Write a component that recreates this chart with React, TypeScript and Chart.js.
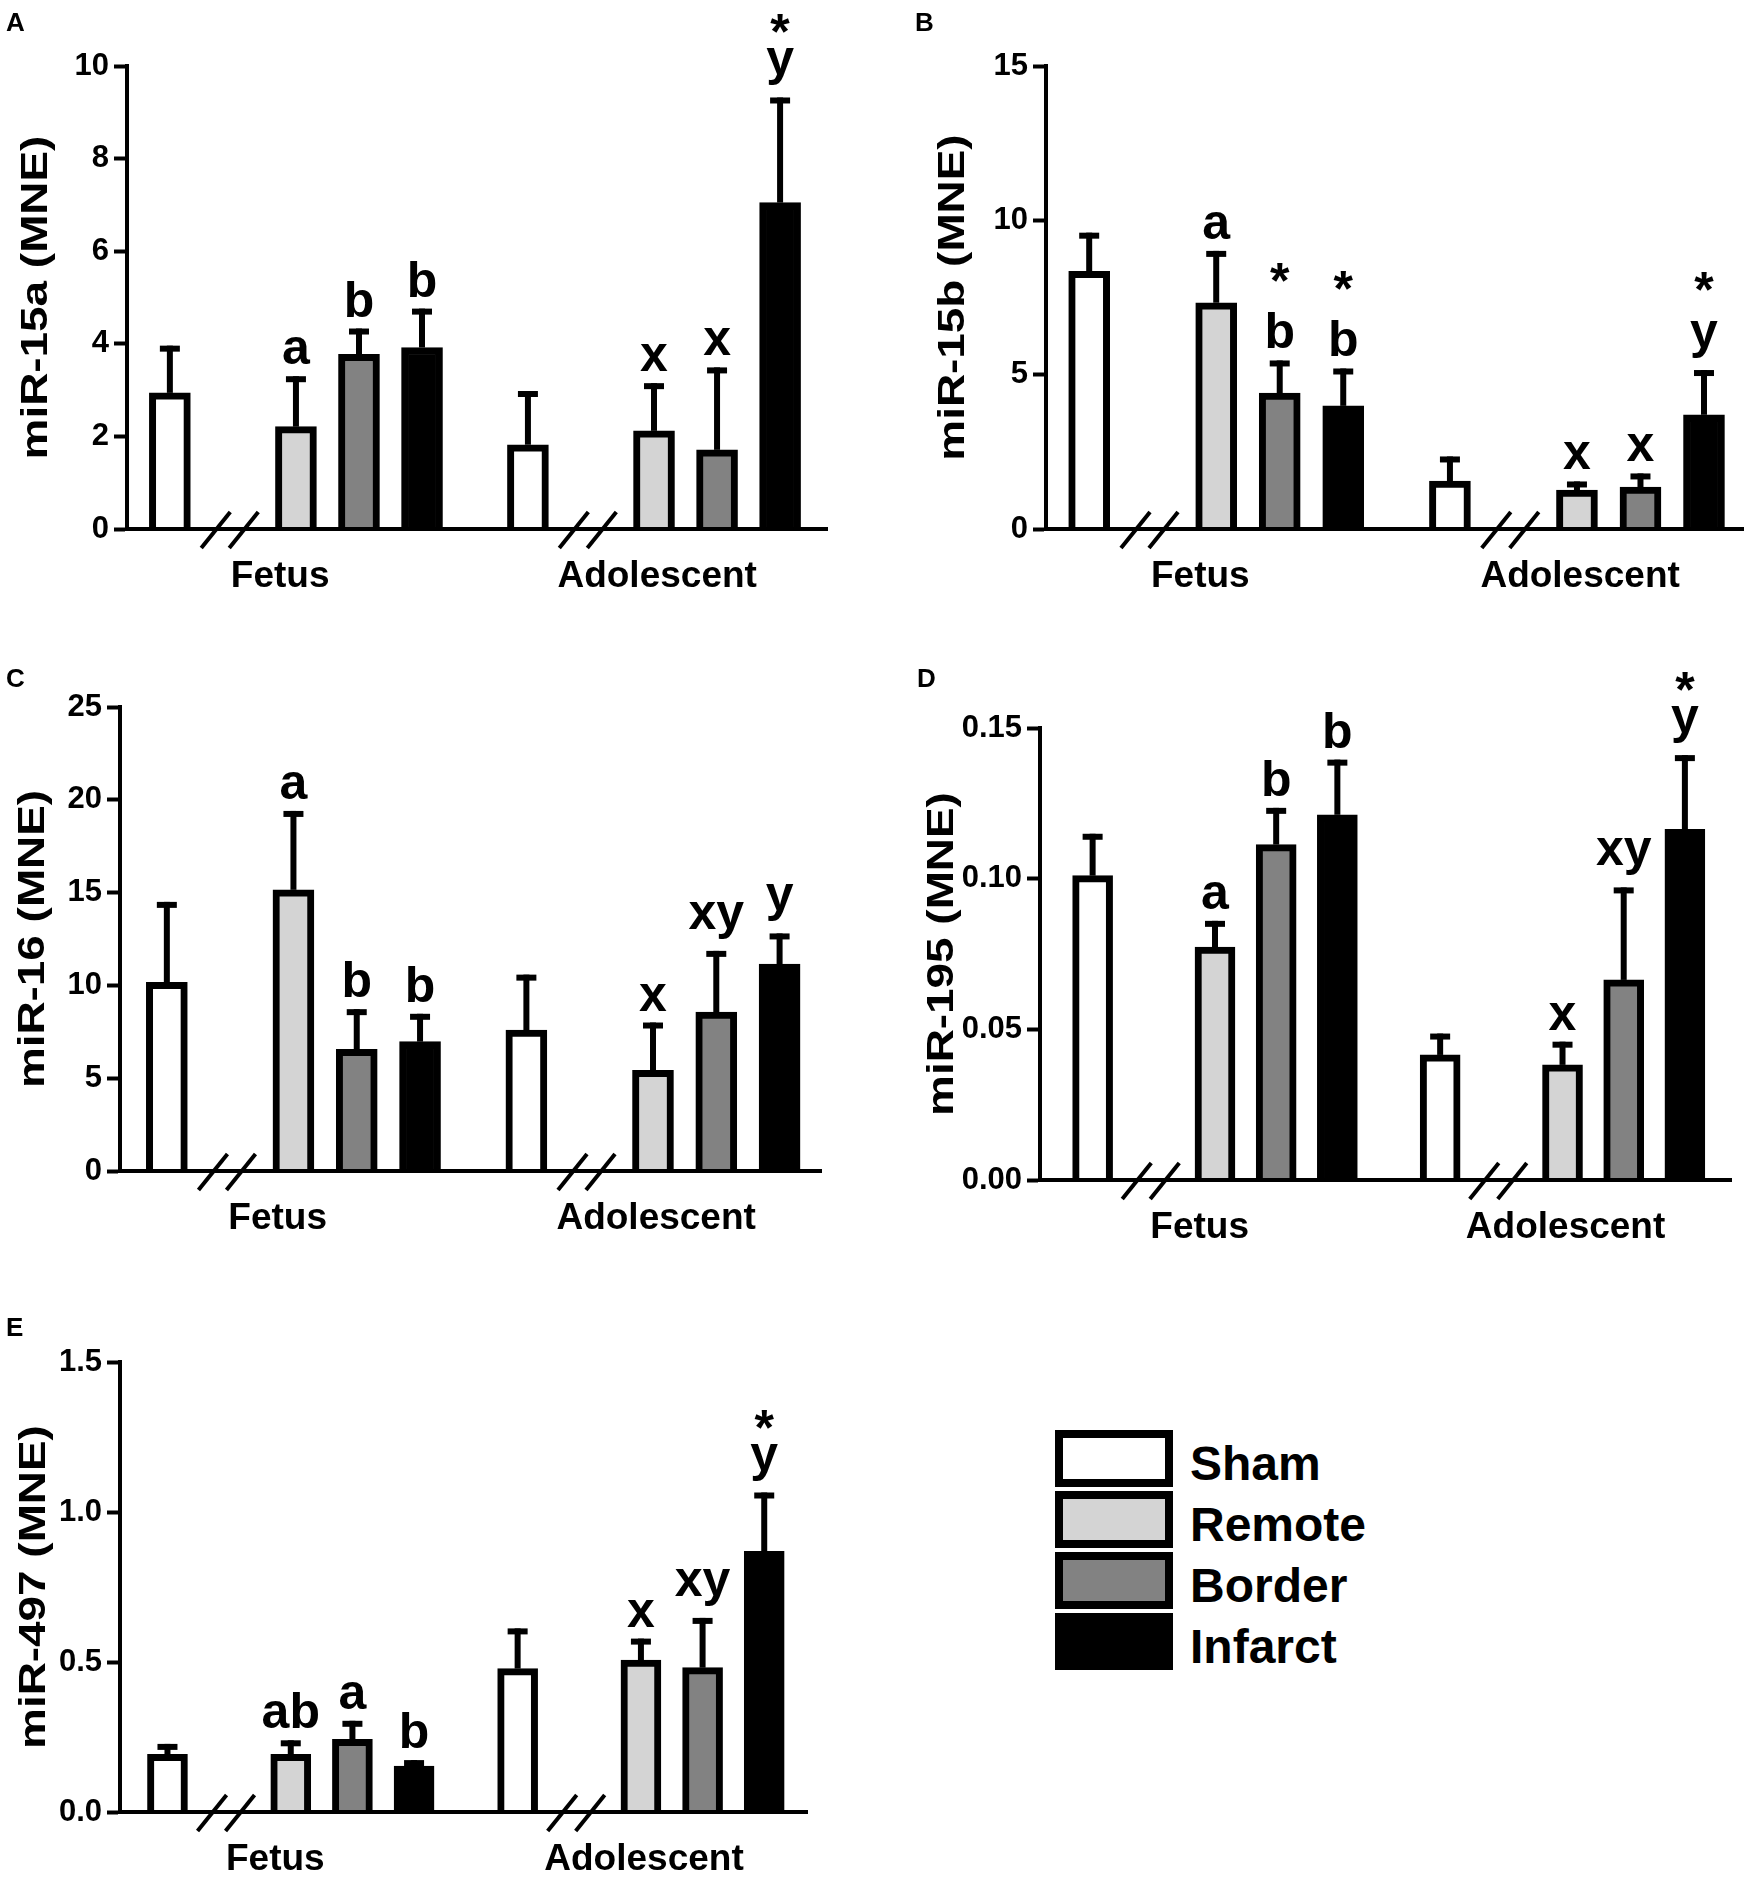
import React, { useEffect, useRef } from "react";
import { Chart, registerables } from "chart.js";

Chart.register(...registerables);

const FONT = '"Liberation Sans", Arial, Helvetica, sans-serif';

// ---- data ----
const groups = ["Fetus", "Adolescent"];
const conditions = ["Sham", "Remote", "Border", "Infarct"];
const fills = ["#ffffff", "#d4d4d4", "#828282", "#000000"];

// order: Fetus (Sham, Remote, Border, Infarct), Adolescent (Sham, Remote, Border, Infarct)
const mir15aMean = [2.94, 2.21, 3.77, 3.92, 1.82, 2.12, 1.71, 7.05];
const mir15aSem = [1.02, 1.09, 0.56, 0.84, 1.16, 1.03, 1.78, 2.27];
const mir15aLetters = ["", "a", "b", "b", "", "x", "x", "y"];
const mir15aStars = [false, false, false, false, false, false, false, true];

const mir15bMean = [8.35, 7.33, 4.4, 3.99, 1.55, 1.26, 1.36, 3.7];
const mir15bSem = [1.25, 1.68, 1.06, 1.21, 0.8, 0.28, 0.44, 1.45];
const mir15bLetters = ["", "a", "b", "b", "", "x", "x", "y"];
const mir15bStars = [false, false, true, true, false, false, false, true];

const mir16Mean = [10.16, 15.15, 6.55, 6.97, 7.59, 5.42, 8.56, 11.15];
const mir16Sem = [4.34, 4.25, 2.17, 1.5, 2.99, 2.58, 3.3, 1.65];
const mir16Letters = ["", "a", "b", "b", "", "x", "xy", "y"];
const mir16Stars = [false, false, false, false, false, false, false, false];

const mir195Mean = [0.101, 0.0773, 0.1113, 0.1212, 0.0415, 0.0382, 0.0664, 0.1164];
const mir195Sem = [0.0139, 0.0087, 0.0122, 0.0183, 0.0071, 0.0077, 0.0307, 0.0246];
const mir195Letters = ["", "a", "b", "b", "", "x", "xy", "y"];
const mir195Stars = [false, false, false, false, false, false, false, true];

const mir497Mean = [0.192, 0.192, 0.242, 0.153, 0.478, 0.506, 0.481, 0.869];
const mir497Sem = [0.035, 0.047, 0.062, 0.02, 0.134, 0.072, 0.166, 0.196];
const mir497Letters = ["", "ab", "a", "b", "", "x", "xy", "y"];
const mir497Stars = [false, false, false, false, false, false, false, true];

// ---- layout (slot units on the x scale) ----
const SLOTS = [0, 2, 3, 4];
const GROUP_OFFSET = 5.68;
const BREAK_AT = 0.95;
const LABEL_AT = [1.75, 2.05];

type Box = { left: number; top: number; width: number; height: number };
type Plot = { l: number; t: number; r: number; b: number };

type PanelProps = {
  tag: string;
  tagPos: [number, number];
  title: string;
  titleShift: number;
  means: number[];
  sems: number[];
  letters: string[];
  stars: boolean[];
  yMax: number;
  yStep: number;
  decimals: number;
  box: Box;
  plot: Plot;
  xMin: number;
  xMax: number;
  barWidth: number;
  starGap: number;
};

function Panel(p: PanelProps) {
  const canvasRef = useRef<HTMLCanvasElement | null>(null);

  useEffect(() => {
    if (!canvasRef.current) return;
    const xs = groups.flatMap((_, gi) => SLOTS.map((s) => gi * GROUP_OFFSET + s));

    const decor = {
      id: "decor",
      afterDatasetsDraw(chart: any) {
        const { ctx, chartArea: ca, scales } = chart;
        const sx = scales.x;
        const sy = scales.y;
        ctx.save();
        ctx.strokeStyle = "#000";
        ctx.fillStyle = "#000";
        ctx.lineCap = "butt";

        // x axis line
        ctx.lineWidth = 4;
        ctx.beginPath();
        ctx.moveTo(ca.left - 2, ca.bottom);
        ctx.lineTo(ca.right, ca.bottom);
        ctx.stroke();

        groups.forEach((g, gi) => {
          const cx = sx.getPixelForValue(gi * GROUP_OFFSET + BREAK_AT);
          ctx.lineWidth = 4;
          [-14, 14].forEach((d) => {
            ctx.beginPath();
            ctx.moveTo(cx + d - 14.5, ca.bottom + 19);
            ctx.lineTo(cx + d + 14.5, ca.bottom - 17);
            ctx.stroke();
          });
          ctx.font = `bold 37px ${FONT}`;
          ctx.textAlign = "center";
          ctx.textBaseline = "alphabetic";
          ctx.fillText(g, sx.getPixelForValue(gi * GROUP_OFFSET + LABEL_AT[gi]), ca.bottom + 58);
        });

        // error bars + letters
        const meta = chart.getDatasetMeta(0);
        meta.data.forEach((bar: any, i: number) => {
          const top = sy.getPixelForValue(p.means[i] + p.sems[i]);
          ctx.lineWidth = 6;
          ctx.beginPath();
          ctx.moveTo(bar.x, bar.y);
          ctx.lineTo(bar.x, top);
          ctx.stroke();
          ctx.beginPath();
          ctx.moveTo(bar.x - 10, top + 3);
          ctx.lineTo(bar.x + 10, top + 3);
          ctx.stroke();

          const txt = p.letters[i];
          if (!txt) return;
          ctx.font = `bold 50px ${FONT}`;
          ctx.textAlign = "center";
          ctx.textBaseline = "alphabetic";
          const m = ctx.measureText(txt);
          const base = top - 12 - Math.max(0, m.actualBoundingBoxDescent);
          ctx.fillText(txt, bar.x, base);
          if (p.stars[i]) {
            const letterTop = base - m.actualBoundingBoxAscent;
            const sm = ctx.measureText("*");
            const starBase = letterTop - p.starGap - sm.actualBoundingBoxDescent;
            ctx.fillText("*", bar.x, starBase);
          }
        });

        // y title
        ctx.save();
        ctx.translate(ca.left - p.titleShift, (ca.top + ca.bottom) / 2);
        ctx.rotate(-Math.PI / 2);
        ctx.scale(1.24, 1);
        ctx.font = `bold 37px ${FONT}`;
        ctx.textAlign = "center";
        ctx.textBaseline = "middle";
        ctx.fillText(p.title, 0, 0);
        ctx.restore();

        // panel tag
        ctx.font = `bold 26px ${FONT}`;
        ctx.textAlign = "left";
        ctx.textBaseline = "alphabetic";
        ctx.fillText(p.tag, p.tagPos[0], p.tagPos[1]);
        ctx.restore();
      },
    };

    const chart = new Chart(canvasRef.current, {
      type: "bar",
      data: {
        datasets: [
          {
            data: xs.map((x, i) => ({ x, y: p.means[i] })) as any,
            backgroundColor: xs.map((_, i) => fills[i % 4]),
            borderColor: "#000",
            borderWidth: 7,
            borderSkipped: "start",
            barThickness: p.barWidth,
          },
        ],
      },
      options: {
        responsive: false,
        maintainAspectRatio: false,
        animation: false,
        events: [],
        layout: {
          padding: {
            left: 0,
            top: p.plot.t - p.box.top,
            right: p.box.left + p.box.width - p.plot.r,
            bottom: p.box.top + p.box.height - p.plot.b,
          },
        },
        plugins: { legend: { display: false }, tooltip: { enabled: false } },
        scales: {
          x: {
            type: "linear",
            display: false,
            offset: false,
            grid: { offset: false },
            min: p.xMin,
            max: p.xMax,
          },
          y: {
            min: 0,
            max: p.yMax,
            ticks: {
              stepSize: p.yStep,
              padding: 5,
              color: "#000",
              font: { family: FONT, size: 31, weight: "bold" },
              callback: (v: any) => Number(v).toFixed(p.decimals),
            },
            grid: {
              drawOnChartArea: false,
              drawTicks: true,
              tickLength: 13,
              tickWidth: 4,
              tickColor: "#000",
            },
            border: { display: true, color: "#000", width: 4 },
            afterFit: (s: any) => {
              s.width = p.plot.l - p.box.left;
            },
          },
        },
      },
      plugins: [decor],
    });

    return () => chart.destroy();
  }, []);

  return (
    <canvas
      ref={canvasRef}
      width={p.box.width}
      height={p.box.height}
      style={{ position: "absolute", left: p.box.left, top: p.box.top, width: p.box.width, height: p.box.height }}
    />
  );
}

function Legend() {
  return (
    <div style={{ position: "absolute", left: 1055, top: 1430 }}>
      {conditions.map((c, i) => (
        <div key={c} style={{ display: "flex", alignItems: "flex-start", height: 57, marginBottom: 4 }}>
          <div
            style={{
              width: 118,
              height: 57,
              boxSizing: "border-box",
              border: "8px solid #000",
              background: fills[i],
            }}
          />
          <span
            style={{
              marginLeft: 17,
              font: `bold 48px ${FONT}`,
              lineHeight: "57px",
              position: "relative",
              top: 5,
              color: "#000",
            }}
          >
            {c}
          </span>
        </div>
      ))}
    </div>
  );
}

export default function App() {
  return (
    <div style={{ position: "absolute", left: 0, top: 0, width: 1750, height: 1879, background: "#fff" }}>
      <Panel
        tag="A"
        tagPos={[6, 31]}
        title="miR-15a (MNE)"
        titleShift={90}
        means={mir15aMean}
        sems={mir15aSem}
        letters={mir15aLetters}
        stars={mir15aStars}
        yMax={10}
        yStep={2}
        decimals={0}
        box={{ left: 0, top: 0, width: 875, height: 640 }}
        plot={{ l: 127, t: 66, r: 828, b: 529 }}
        xMin={-0.68}
        xMax={10.44}
        barWidth={41}
        starGap={15}
      />
      <Panel
        tag="B"
        tagPos={[40, 31]}
        title="miR-15b (MNE)"
        titleShift={92}
        means={mir15bMean}
        sems={mir15bSem}
        letters={mir15bLetters}
        stars={mir15bStars}
        yMax={15}
        yStep={5}
        decimals={0}
        box={{ left: 875, top: 0, width: 875, height: 640 }}
        plot={{ l: 1046, t: 66, r: 1744, b: 529 }}
        xMin={-0.68}
        xMax={10.31}
        barWidth={41}
        starGap={30}
      />
      <Panel
        tag="C"
        tagPos={[6, 47]}
        title="miR-16 (MNE)"
        titleShift={86}
        means={mir16Mean}
        sems={mir16Sem}
        letters={mir16Letters}
        stars={mir16Stars}
        yMax={25}
        yStep={5}
        decimals={0}
        box={{ left: 0, top: 640, width: 875, height: 620 }}
        plot={{ l: 120, t: 707, r: 822, b: 1171 }}
        xMin={-0.74}
        xMax={10.35}
        barWidth={41}
        starGap={15}
      />
      <Panel
        tag="D"
        tagPos={[42, 47]}
        title="miR-195 (MNE)"
        titleShift={97}
        means={mir195Mean}
        sems={mir195Sem}
        letters={mir195Letters}
        stars={mir195Stars}
        yMax={0.15}
        yStep={0.05}
        decimals={2}
        box={{ left: 875, top: 640, width: 875, height: 620 }}
        plot={{ l: 1040, t: 728, r: 1732, b: 1180 }}
        xMin={-0.86}
        xMax={10.45}
        barWidth={40}
        starGap={15}
      />
      <Panel
        tag="E"
        tagPos={[6, 46]}
        title="miR-497 (MNE)"
        titleShift={85}
        means={mir497Mean}
        sems={mir497Sem}
        letters={mir497Letters}
        stars={mir497Stars}
        yMax={1.5}
        yStep={0.5}
        decimals={1}
        box={{ left: 0, top: 1290, width: 875, height: 589 }}
        plot={{ l: 120, t: 1362, r: 808, b: 1812 }}
        xMin={-0.77}
        xMax={10.39}
        barWidth={40}
        starGap={15}
      />
      <Legend />
    </div>
  );
}
